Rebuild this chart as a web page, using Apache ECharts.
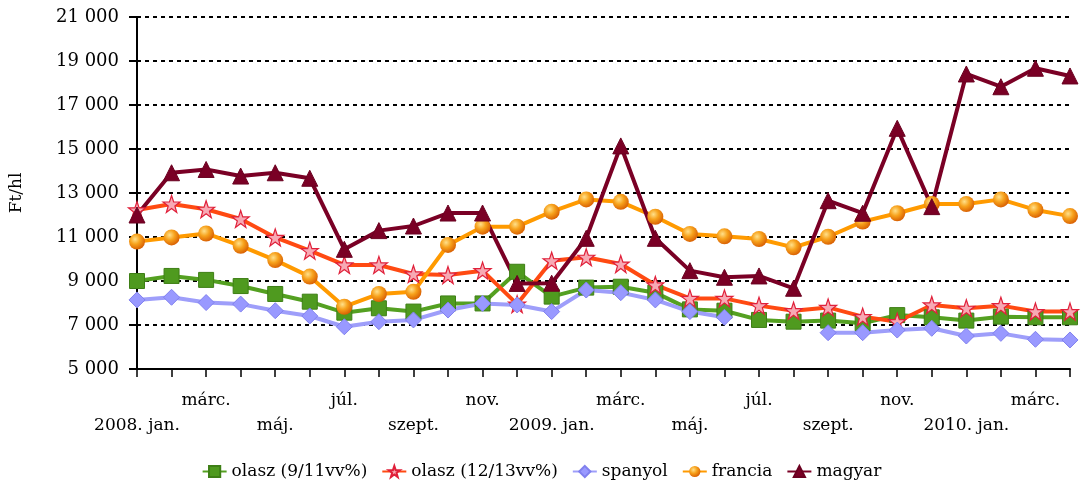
<!DOCTYPE html>
<html><head><meta charset="utf-8">
<script src="https://cdn.jsdelivr.net/npm/echarts@6/dist/echarts.min.js"></script>
<style>html,body{margin:0;padding:0;background:#fff}#c{width:1083px;height:487px}</style>
</head><body><div id="c"></div>
<script>
const categories = ['2008. jan.','febr.','márc.','ápr.','máj.','jún.','júl.','aug.','szept.','okt.','nov.','dec.',
 '2009. jan.','febr.','márc.','ápr.','máj.','jún.','júl.','aug.','szept.','okt.','nov.','dec.',
 '2010. jan.','febr.','márc.','ápr.'];
const olasz911 = [9000,9230,9050,8770,8410,8060,7560,7760,7610,7980,7980,9420,8290,8700,8740,8470,7710,7650,7230,7150,7200,7080,7450,7350,7200,7380,7350,7350];
const olasz1213 = [12230,12500,12260,11820,10980,10380,9730,9730,9320,9270,9470,7950,9920,10080,9770,8820,8210,8210,7880,7650,7800,7380,7150,7910,7760,7880,7610,7610];
const spanyol = [8140,8260,8020,7950,7650,7410,6920,7150,7230,7680,7980,7910,7610,8590,8470,8140,7610,7350,null,null,6650,6650,6770,6850,6500,6620,6350,6320];
const francia = [10790,10980,11160,10600,9950,9200,7830,8410,8510,10640,11470,11470,12150,12710,12600,11920,11140,11030,10910,10530,11010,11700,12080,12500,12500,12710,12230,11950];
const magyar = [12000,13920,14070,13770,13920,13670,10440,11290,11500,12090,12090,8890,8900,10940,15140,10940,9470,9170,9230,8670,12650,12080,15940,12380,18410,17830,18670,18320];
const seriesNames = ['olasz (9/11vv%)','olasz (12/13vv%)','spanyol','francia','magyar'];
const yTicks = {min:5000,max:21000,interval:2000};

const FONT = 'DejaVu Serif';
const star = 'path://M50,0 L61.8,35.1 L98.1,35.1 L68.9,56.8 L79.4,91.9 L50,70.4 L20.6,91.9 L31.1,56.8 L1.9,35.1 L38.2,35.1 Z';
const chart = echarts.init(document.getElementById('c'));
const base = {type:'line', smooth:false, connectNulls:false, lineStyle:{width:4}, z:2};
chart.setOption({
  animation:false,
  textStyle:{fontFamily:FONT},
  grid:{left:137,right:13,top:17,bottom:118,containLabel:false},
  legend:{
    bottom:2,left:'center',itemWidth:24,itemHeight:14,itemGap:14,
    textStyle:{fontFamily:FONT,fontSize:17,color:'#000'},
    data:seriesNames
  },
  xAxis:{
    type:'category',data:categories,boundaryGap:false,
    axisLine:{lineStyle:{color:'#000',width:2}},
    axisTick:{show:true,interval:0,length:8,lineStyle:{color:'#000',width:1.5}},
    axisLabel:{interval:0,color:'#000',fontFamily:FONT,fontSize:17,margin:19,lineHeight:25,
      formatter:function(v,i){ if(i%4===2) return v; if(i%4===0) return '\n'+v; return ''; }},
    splitLine:{show:false}
  },
  yAxis:{
    type:'value',min:yTicks.min,max:yTicks.max,interval:yTicks.interval,
    name:'Ft/hl',nameLocation:'middle',nameGap:112,nameRotate:90,
    nameTextStyle:{fontFamily:FONT,fontSize:17,color:'#000'},
    axisLine:{show:true,lineStyle:{color:'#000',width:2}},
    axisTick:{show:true,inside:false,length:8,lineStyle:{color:'#000',width:2}},
    axisLabel:{color:'#000',fontFamily:FONT,fontSize:18,margin:18,
      formatter:function(v){ return String(v).replace(/\B(?=(\d{3})+(?!\d))/g,' '); }},
    splitLine:{show:true,lineStyle:{color:'#000',type:[4,4],width:2}}
  },
  series:[
    Object.assign({},base,{name:seriesNames[0],data:olasz911,symbol:'rect',symbolSize:15,
      lineStyle:{width:4,color:'#54A021'},itemStyle:{color:'#4F9A1F',borderColor:'#3E7F16',borderWidth:1}}),
    Object.assign({},base,{name:seriesNames[1],data:olasz1213,symbol:star,symbolSize:17,
      lineStyle:{width:4,color:'#FF4A12'},itemStyle:{color:'#F7A9B4',borderColor:'#E0203A',borderWidth:1.2}}),
    Object.assign({},base,{name:seriesNames[2],data:spanyol,symbol:'diamond',symbolSize:16,
      lineStyle:{width:4,color:'#9E9EFA'},itemStyle:{color:'#9999FF',borderColor:'#8080EE',borderWidth:1}}),
    Object.assign({},base,{name:seriesNames[3],data:francia,symbol:'circle',symbolSize:16,
      lineStyle:{width:4,color:'#FF9A00'},itemStyle:{color:new echarts.graphic.RadialGradient(0.38,0.35,0.7,[
        {offset:0,color:'#FFE08A'},{offset:0.45,color:'#F7A21C'},{offset:1,color:'#D65A00'}]),borderWidth:0}}),
    Object.assign({},base,{name:seriesNames[4],data:magyar,symbol:'triangle',symbolSize:16,
      lineStyle:{width:4,color:'#7A0025'},itemStyle:{color:'#7A0025',borderColor:'#6A0020',borderWidth:1}})
  ]
});
</script></body></html>
